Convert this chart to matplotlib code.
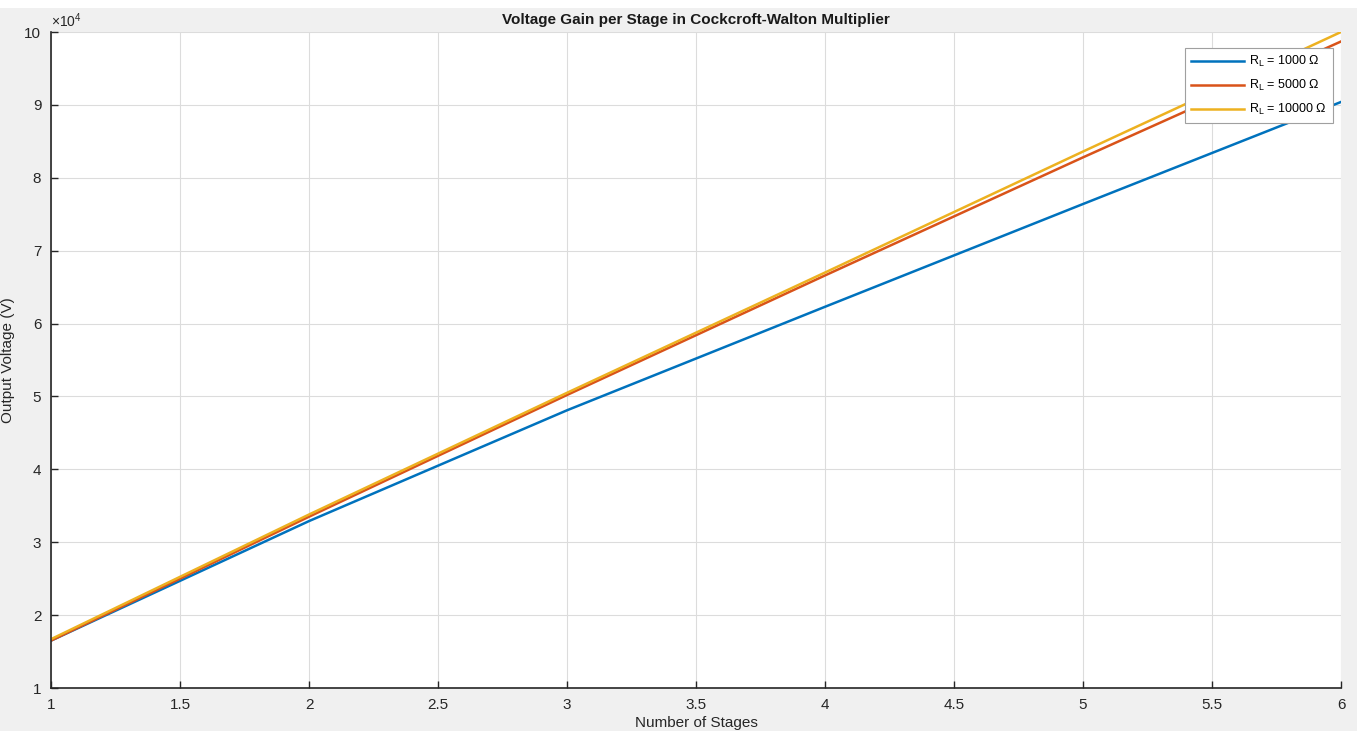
import matplotlib
matplotlib.use('Agg')
import matplotlib.pyplot as plt
from matplotlib.patches import Rectangle
from matplotlib.ticker import FuncFormatter

# data (output voltage in V per number of stages)
stages = [1, 2, 3, 4, 5, 6]
v_1000 = [16500, 32900, 48100, 62300, 76400, 90400]
v_5000 = [16500, 33500, 50200, 66600, 82800, 98700]
v_10000 = [16700, 33800, 50500, 67000, 83600, 100000]
labels = [r'R$_{\mathrm{L}}$ = 1000 Ω', r'R$_{\mathrm{L}}$ = 5000 Ω', r'R$_{\mathrm{L}}$ = 10000 Ω']
colors = ['#0072BD', '#D95319', '#EDB120']

plt.rcParams['font.family'] = ['Liberation Sans', 'DejaVu Sans']
plt.rcParams['mathtext.fontset'] = 'custom'
plt.rcParams['mathtext.rm'] = 'Liberation Sans'

fig = plt.figure(figsize=(13.57, 7.31), dpi=100, facecolor='#f0f0f0')
# white strip at the very top of the screenshot
fig.patches.append(Rectangle((0, 1 - 8 / 731), 1, 8 / 731, transform=fig.transFigure,
                             facecolor='white', edgecolor='none', zorder=-1))
ax = fig.add_axes([51 / 1357, 1 - 688 / 731, (1341 - 51) / 1357, (688 - 32) / 731])
ax.set_facecolor('white')

for ys, c, lab in zip([v_1000, v_5000, v_10000], colors, labels):
    ax.plot(stages, ys, color=c, lw=1.8, label=lab)

ax.set_xlim(1, 6)
ax.set_ylim(10000, 100000)
ax.set_xticks([1, 1.5, 2, 2.5, 3, 3.5, 4, 4.5, 5, 5.5, 6])
ax.set_xticklabels(['1', '1.5', '2', '2.5', '3', '3.5', '4', '4.5', '5', '5.5', '6'])
ax.set_yticks(range(10000, 100001, 10000))
ax.yaxis.set_major_formatter(FuncFormatter(lambda v, p: f'{v / 1e4:g}'))
ax.text(0.0, 1.003, r'$\times$10$^{4}$', transform=ax.transAxes, fontsize=10,
        color='#262626', ha='left', va='bottom')

ax.grid(True, color='#dcdcdc', lw=0.8)
ax.set_axisbelow(True)
for s in ['top', 'right']:
    ax.spines[s].set_visible(False)
for s in ['left', 'bottom']:
    ax.spines[s].set_color('#262626')
    ax.spines[s].set_linewidth(1.2)
ax.tick_params(direction='in', length=5, width=1, colors='#262626', labelsize=11)
ax.tick_params(axis='x', pad=7)
ax.tick_params(axis='y', pad=7)

ax.set_title('Voltage Gain per Stage in Cockcroft-Walton Multiplier', fontsize=11,
             fontweight='bold', color='#1a1a1a', pad=6)
ax.set_xlabel('Number of Stages', fontsize=11, color='#262626', labelpad=3)
ax.set_ylabel('Output Voltage (V)', fontsize=11, color='#262626')
ax.yaxis.set_label_coords(-0.028, 0.5)

leg = ax.legend(loc='upper right', bbox_to_anchor=(0.9985, 0.985), fontsize=9,
                frameon=True, fancybox=False, edgecolor='#a0a0a0', framealpha=1,
                handlelength=4.2, borderpad=0.5, labelspacing=0.7, handletextpad=0.4)
leg.get_frame().set_linewidth(0.8)

fig.savefig('out.png', dpi=100, facecolor=fig.get_facecolor())
